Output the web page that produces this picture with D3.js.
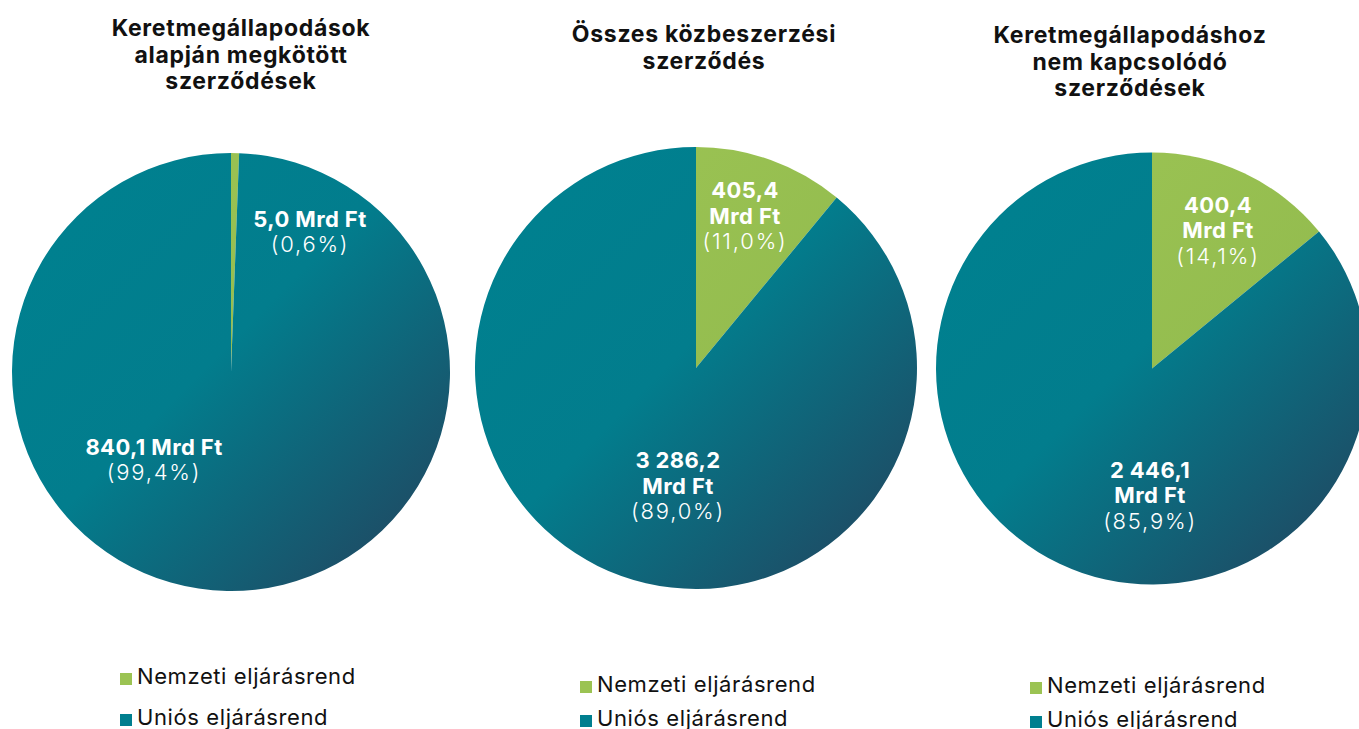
<!DOCTYPE html>
<html>
<head>
<meta charset="utf-8">
<script src="https://cdn.jsdelivr.net/npm/d3@7"></script>
<style>
  html, body { margin: 0; padding: 0; background: #fff; overflow: hidden; }
  text { font-family: Inter, "Noto Sans", sans-serif; }
</style>
</head>
<body>
<script>
// data
const categories = ["Nemzeti eljárásrend", "Uniós eljárásrend"];
const titles = [
  ["Keretmegállapodások", "alapján megkötött", "szerződések"],
  ["Összes közbeszerzési", "szerződés"],
  ["Keretmegállapodáshoz", "nem kapcsolódó", "szerződések"]
];
const nemzeti = [5.0, 405.4, 400.4];   // Mrd Ft
const unios = [840.1, 3286.2, 2446.1]; // Mrd Ft

const width = 1359, height = 729;
const colors = ["#9bc353", "#007f8f"];

// where each pie sits and how its texts are placed
const layout = [
  {cx: 231, cy: 372, r: 219, titleX: 241, titleY: 36, legX: 120, legY: 684, legGap: 41,
   lbl: [{dx: 79, dy: -145, oneLine: true}, {dx: -77, dy: 83, oneLine: true}]},
  {cx: 696, cy: 368, r: 221, titleX: 704, titleY: 42, legX: 580, legY: 692, legGap: 34,
   lbl: [{dx: 49, dy: -170}, {dx: -18, dy: 100}]},
  {cx: 1152, cy: 368.5, r: 216, titleX: 1130, titleY: 43, legX: 1030, legY: 693, legGap: 34,
   lbl: [{dx: 66, dy: -156}, {dx: -2, dy: 109}]}
];

const loc = d3.formatLocale({decimal: ",", thousands: "\u00a0", grouping: [3], currency: ["", ""]});
const fmtVal = loc.format(",.1f");
const fmtPct = loc.format(".1f");

const svg = d3.select("body").append("svg")
    .attr("width", width)
    .attr("height", height)
    .attr("viewBox", [0, 0, width, height]);

const defs = svg.append("defs");

const pie = d3.pie().sort(null).value(d => d);
const arc = d3.arc().innerRadius(0);

layout.forEach((L, i) => {
  const vals = [nemzeti[i], unios[i]];
  const total = d3.sum(vals);

  // gradients, upper left -> lower right, coords relative to pie centre
  const grads = colors.map((c, k) => {
    const id = `g${i}_${k}`;
    const g = defs.append("linearGradient")
        .attr("id", id)
        .attr("gradientUnits", "userSpaceOnUse")
        .attr("x1", -L.r * 0.7).attr("y1", -L.r * 0.7)
        .attr("x2", L.r * 0.7).attr("y2", L.r * 0.7);
    if (k === 0) {
      g.append("stop").attr("offset", 0).attr("stop-color", "#9bc353");
      g.append("stop").attr("offset", 1).attr("stop-color", "#8fb84c");
    } else {
      g.append("stop").attr("offset", 0).attr("stop-color", "#00808f");
      g.append("stop").attr("offset", 0.45).attr("stop-color", "#027d8d");
      g.append("stop").attr("offset", 1).attr("stop-color", "#1b5169");
    }
    return `url(#${id})`;
  });

  const g = svg.append("g").attr("transform", `translate(${L.cx},${L.cy})`);

  g.selectAll("path")
    .data(pie(vals))
    .join("path")
      .attr("d", d => arc.outerRadius(L.r)(d))
      .attr("fill", (d, k) => grads[k]);

  // value labels
  vals.forEach((v, k) => {
    const p = L.lbl[k];
    const t = g.append("text")
        .attr("text-anchor", "middle")
        .attr("fill", "#fff")
        .attr("font-size", 22);
    const pct = "(" + fmtPct(v / total * 100) + "%)";
    const lines = p.oneLine ? [fmtVal(v) + " Mrd Ft", pct] : [fmtVal(v), "Mrd Ft", pct];
    const step = p.oneLine ? 25 : 25.5;
    lines.forEach((s, j) => {
      const light = j === lines.length - 1;
      t.append("tspan")
          .attr("x", p.dx)
          .attr("y", p.dy + j * step)
          .attr("font-weight", light ? 300 : 700)
          .attr("letter-spacing", light ? 1.8 : 0.4)
          .text(s);
    });
  });

  // title
  svg.append("text")
      .attr("text-anchor", "middle")
      .attr("font-size", 23)
      .attr("font-weight", 700)
      .attr("letter-spacing", 0.7)
      .attr("fill", "#111")
    .selectAll("tspan")
    .data(titles[i])
    .join("tspan")
      .attr("x", L.titleX)
      .attr("y", (d, j) => L.titleY + j * 26.5)
      .text(d => d);

  // legend
  const leg = svg.append("g")
    .selectAll("g")
    .data(categories)
    .join("g")
      .attr("transform", (d, k) => `translate(${L.legX},${L.legY + k * L.legGap})`);
  leg.append("rect")
      .attr("x", 0).attr("y", -11)
      .attr("width", 12).attr("height", 12)
      .attr("fill", (d, k) => grads[k] ? colors[k] : colors[k]);
  leg.append("text")
      .attr("x", 17)
      .attr("font-size", 22)
      .attr("letter-spacing", 0.6)
      .attr("fill", "#111")
      .text(d => d);
});
</script>
</body>
</html>
